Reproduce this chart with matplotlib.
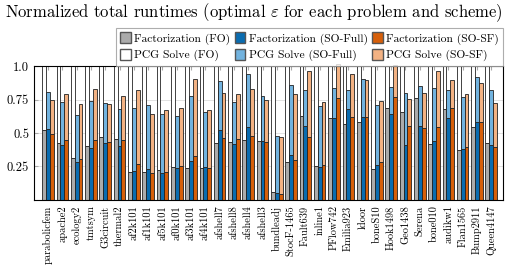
import numpy as np
import matplotlib
matplotlib.use('Agg')
import matplotlib.pyplot as plt
from matplotlib.patches import Patch

plt.rcParams['font.family'] = ['cmr10', 'DejaVu Serif']
plt.rcParams['mathtext.fontset'] = 'cm'
plt.rcParams['axes.unicode_minus'] = False

#%%
# problemi e tempi normalizzati (rispetto al totale FO)
problems = ['parabolicfem', 'apache2', 'ecology2', 'tmtsym', 'G3circuit', 'thermal2',
            'af2k101', 'af1k101', 'af5k101', 'af0k101', 'af3k101', 'af4k101',
            'afshell7', 'afshell8', 'afshell4', 'afshell3', 'bundleadj', 'StocF-1465',
            'Fault639', 'inline1', 'PFlow742', 'Emilia923', 'ldoor', 'boneS10',
            'Hook1498', 'Geo1438', 'Serena', 'bone010', 'audikw1', 'Flan1565',
            'Bump2911', 'Queen4147']

fo_fact = [0.52, 0.425, 0.31, 0.405, 0.47, 0.455, 0.21, 0.21, 0.22, 0.245, 0.24, 0.235,
           0.425, 0.43, 0.45, 0.44, 0.06, 0.28, 0.625, 0.255, 0.61, 0.5675, 0.58, 0.23,
           0.69, 0.66, 0.76, 0.42, 0.68, 0.375, 0.545, 0.425]
fo_total = [1.0] * len(problems)

full_fact = [0.53, 0.41, 0.28, 0.39, 0.425, 0.405, 0.215, 0.23, 0.2, 0.24, 0.29, 0.245,
             0.52, 0.42, 0.545, 0.44, 0.05, 0.335, 0.555, 0.245, 0.61, 0.68, 0.62, 0.26,
             0.645, 0.41, 0.55, 0.44, 0.61, 0.38, 0.58, 0.41]
full_total = [0.81, 0.735, 0.635, 0.74, 0.725, 0.68, 0.69, 0.71, 0.64, 0.625, 0.78, 0.66,
              0.89, 0.73, 0.94, 0.775, 0.48, 0.86, 0.82, 0.70, 0.84, 0.825, 0.905, 0.71,
              0.845, 0.80, 0.855, 0.84, 0.82, 0.77, 0.92, 0.82]

sf_fact = [0.49, 0.45, 0.305, 0.45, 0.43, 0.45, 0.27, 0.2, 0.21, 0.255, 0.33, 0.24,
           0.46, 0.455, 0.48, 0.43, 0.043, 0.30, 0.47, 0.26, 0.76, 0.62, 0.62, 0.28,
           0.77, 0.555, 0.54, 0.545, 0.69, 0.395, 0.58, 0.395]
sf_total = [0.745, 0.79, 0.72, 0.83, 0.715, 0.78, 0.82, 0.64, 0.67, 0.69, 0.905, 0.67,
            0.80, 0.79, 0.83, 0.75, 0.47, 0.79, 0.96, 0.73, 1.015, 0.94, 0.895, 0.74,
            1.01, 0.755, 0.80, 0.96, 0.895, 0.79, 0.87, 0.725]

#%%
c_fo_f, c_fo_s = '#ababab', '#ffffff'
c_fu_f, c_fu_s = '#0a6cb0', '#72b3df'
c_sf_f, c_sf_s = '#d65f0a', '#f3b283'

fig = plt.figure(figsize=(5.08, 2.72), dpi=100)
ax = fig.add_axes([0.067, 0.265, 0.924, 0.492])

x = np.arange(len(problems))
w = 0.27
ec = '#222222'
lw = 0.6

schemes = [(x - w, fo_fact, fo_total, c_fo_f, c_fo_s),
           (x, full_fact, full_total, c_fu_f, c_fu_s),
           (x + w, sf_fact, sf_total, c_sf_f, c_sf_s)]

for pos, fact, tot, cf, cs in schemes:
    fact = np.array(fact)
    solve = np.array(tot) - fact
    ax.bar(pos, fact, w, color=cf, edgecolor=ec, linewidth=lw, clip_on=False, zorder=2)
    ax.bar(pos, solve, w, bottom=fact, color=cs, edgecolor=ec, linewidth=lw,
           clip_on=False, zorder=2)

ax.set_xlim(-0.98, 31.85)
ax.set_ylim(0, 1.0)
ax.set_yticks([0.25, 0.5, 0.75, 1.0])
ax.set_yticklabels(['0.25', '0.5', '0.75', '1.0'], fontsize=9)
ax.set_xticks(x)
ax.set_xticklabels(problems, rotation=90, fontsize=7.5)
ax.tick_params(direction='in', length=3, color='#aaaaaa', top=True)
ax.tick_params(axis='x', pad=4)
ax.yaxis.grid(True, color='#dddddd', linewidth=0.6, zorder=0)
ax.set_axisbelow(True)
for s in ax.spines.values():
    s.set_linewidth(0.8)

fig.text(0.5, 0.955, r'Normalized total runtimes (optimal $\varepsilon$ for each problem and scheme)',
         ha='center', va='center', fontsize=12.0)

handles = [Patch(facecolor=c_fo_f, edgecolor='#555555', label='Factorization (FO)'),
           Patch(facecolor=c_fo_s, edgecolor='#555555', label='PCG Solve (FO)'),
           Patch(facecolor=c_fu_f, edgecolor='#555555', label='Factorization (SO-Full)'),
           Patch(facecolor=c_fu_s, edgecolor='#555555', label='PCG Solve (SO-Full)'),
           Patch(facecolor=c_sf_f, edgecolor='#555555', label='Factorization (SO-SF)'),
           Patch(facecolor=c_sf_s, edgecolor='#555555', label='PCG Solve (SO-SF)')]
leg = ax.legend(handles=handles, ncol=3, loc='lower right', bbox_to_anchor=(1.0, 1.0),
                fontsize=8.3, frameon=True, fancybox=False, edgecolor='#999999',
                borderaxespad=0.0, handlelength=0.9, handleheight=1.0, handletextpad=0.3,
                columnspacing=0.4, borderpad=0.4, labelspacing=0.4)
leg.get_frame().set_linewidth(0.8)

fig.savefig('out.png', dpi=100)
